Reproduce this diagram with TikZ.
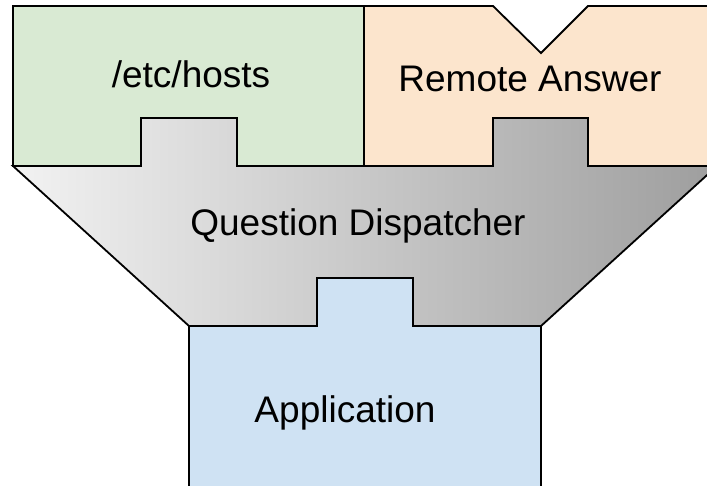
\documentclass[tikz,border=0pt]{standalone}
\usepackage{fontspec}
\setmainfont{Liberation Sans}
\begin{document}
\begin{tikzpicture}[x=1pt,y=-1pt,
  piece/.style={draw=black,line width=1.8pt,line join=miter},
  lbl/.style={inner sep=0pt,anchor=base,font=\fontsize{37}{41}\selectfont},
]
\useasboundingbox (0,0) rectangle (707,485);
\clip (0,0) rectangle (707,485);
% Question Dispatcher (gray funnel)
\path[piece,left color={rgb,255:red,242;green,242;blue,242},right color={rgb,255:red,158;green,158;blue,158}]
  (13,166) -- (141,166) -- (141,118) -- (237,118) -- (237,166) -- (493,166) -- (493,118)
  -- (588,118) -- (588,166) -- (717,166) -- (541,326) -- (413,326) -- (413,278)
  -- (317,278) -- (317,326) -- (189,326) -- cycle;
% /etc/hosts
\path[piece,fill={rgb,255:red,217;green,234;blue,211}]
  (13,6) -- (364,6) -- (364,166) -- (237,166) -- (237,118) -- (141,118) -- (141,166) -- (13,166) -- cycle;
% Remote Answer
\path[piece,fill={rgb,255:red,252;green,229;blue,205}]
  (364,6) -- (493,6) -- (541,53) -- (588,6) -- (720,6) -- (720,166) -- (588,166) -- (588,118)
  -- (493,118) -- (493,166) -- (364,166) -- cycle;
% Application
\path[piece,fill={rgb,255:red,207;green,226;blue,243}]
  (189,326) -- (317,326) -- (317,278) -- (413,278) -- (413,326) -- (541,326) -- (541,500) -- (189,500) -- cycle;
\node[lbl] (hosts) at (191,87) {/etc/hosts};
\node[lbl] (remote) at (530,91) {Remote Answer};
\node[lbl] (disp) at (358,235) {Question Dispatcher};
\node[lbl] (app) at (345,422) {Application};
\end{tikzpicture}
\end{document}
